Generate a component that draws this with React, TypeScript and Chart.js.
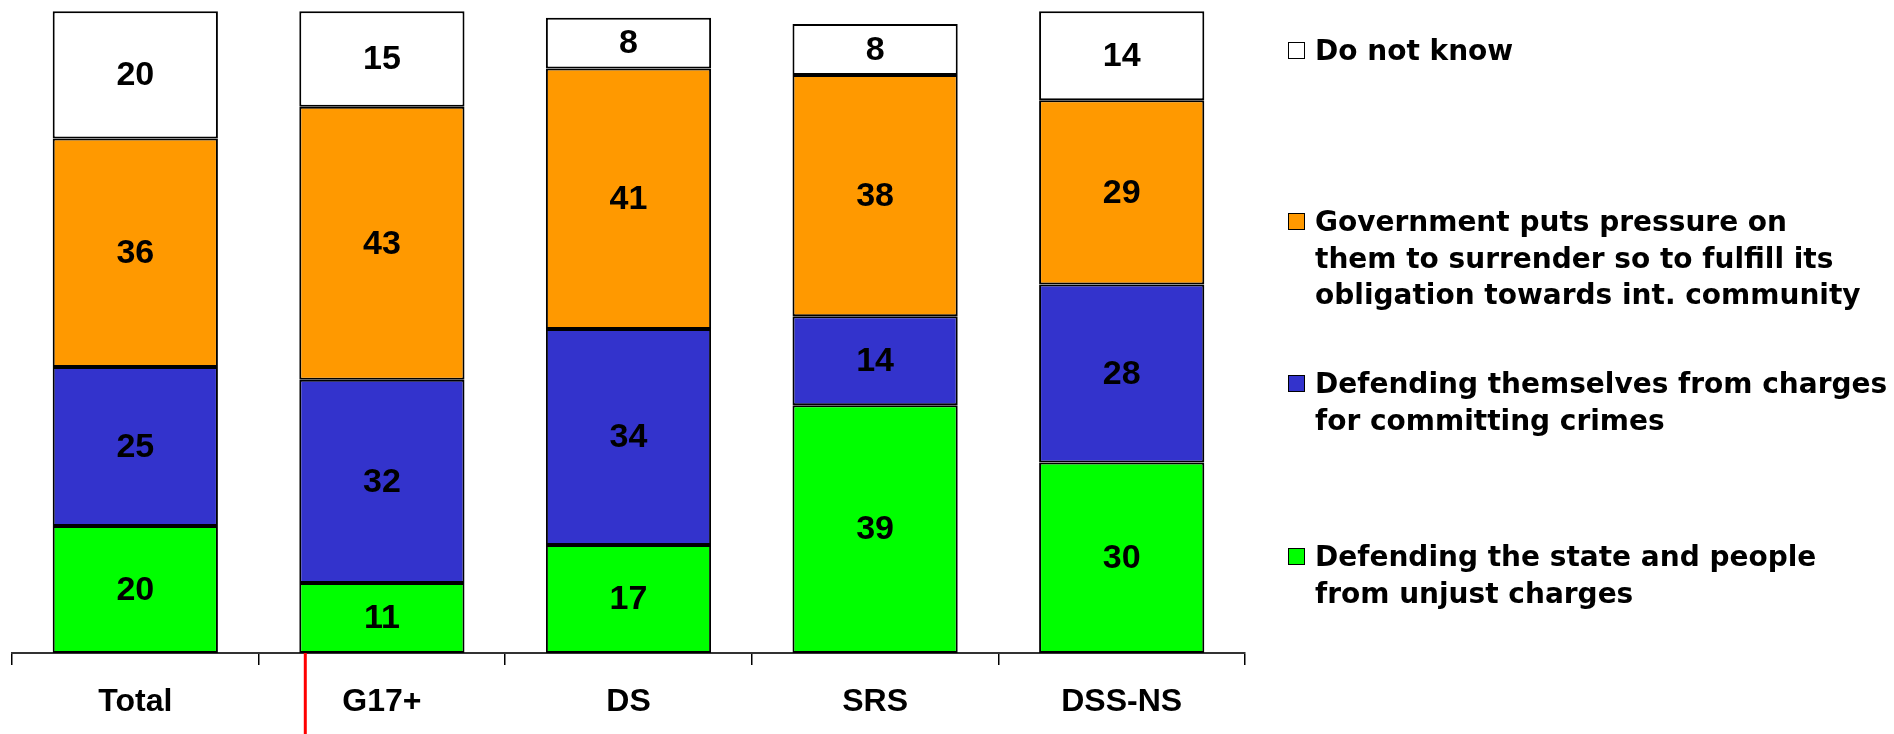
import React, { useEffect, useRef } from "react";
import { Chart, registerables } from "chart.js";

Chart.register(...registerables);

const categories = ["Total", "G17+", "DS", "SRS", "DSS-NS"];
const defendingState = [20, 11, 17, 39, 30];
const defendingThemselves = [25, 32, 34, 14, 28];
const governmentPressure = [36, 43, 41, 38, 29];
const doNotKnow = [20, 15, 8, 8, 14];

const labelState = ["Defending the state and people", "from unjust charges"];
const labelThemselves = ["Defending themselves from charges", "for committing crimes"];
const labelGovernment = [
  "Government puts pressure on",
  "them to surrender so to fulfill its",
  "obligation towards int. community",
];
const labelDoNotKnow = ["Do not know"];

const colorState = "#00FF00";
const colorThemselves = "#3333CC";
const colorGovernment = "#FF9900";
const colorDoNotKnow = "#FFFFFF";

const legendItems = [
  { lines: labelDoNotKnow, color: colorDoNotKnow, top: 33 },
  { lines: labelGovernment, color: colorGovernment, top: 204 },
  { lines: labelThemselves, color: colorThemselves, top: 366 },
  { lines: labelState, color: colorState, top: 539 },
];

const valueLabels = {
  id: "valueLabels",
  afterDatasetsDraw(chart: any) {
    const ctx = chart.ctx;
    ctx.save();
    ctx.fillStyle = "#000";
    ctx.font = "bold 34px 'Liberation Sans', Arial, sans-serif";
    ctx.textAlign = "center";
    ctx.textBaseline = "middle";
    chart.data.datasets.forEach((ds: any, i: number) => {
      const meta = chart.getDatasetMeta(i);
      meta.data.forEach((el: any, j: number) => {
        const p = el.getProps(["x", "y", "base"], true);
        ctx.fillText(String(ds.data[j]), p.x, (p.y + p.base) / 2 + 1);
      });
    });
    ctx.restore();
  },
};

const redMark = {
  id: "redMark",
  afterDraw(chart: any) {
    const meta = chart.getDatasetMeta(0);
    const el: any = meta.data[1];
    if (!el) return;
    const p = el.getProps(["x", "width"], true);
    const x = p.x - p.width / 2 + 6;
    const ctx = chart.ctx;
    ctx.save();
    ctx.strokeStyle = "#FF0000";
    ctx.lineWidth = 3;
    ctx.beginPath();
    ctx.moveTo(x, chart.chartArea.bottom);
    ctx.lineTo(x, chart.height);
    ctx.stroke();
    ctx.restore();
  },
};

export default function App() {
  const ref = useRef<HTMLCanvasElement>(null);

  useEffect(() => {
    if (!ref.current) return;
    const mk = (label: string[], data: number[], color: string) => ({
      label: label.join(" "),
      data,
      backgroundColor: color,
      borderColor: "#000",
      borderWidth: 2,
      borderSkipped: false,
      categoryPercentage: 1,
      barPercentage: 0.67,
    });
    const chart = new Chart(ref.current, {
      type: "bar",
      data: {
        labels: categories,
        datasets: [
          mk(labelState, defendingState, colorState),
          mk(labelThemselves, defendingThemselves, colorThemselves),
          mk(labelGovernment, governmentPressure, colorGovernment),
          mk(labelDoNotKnow, doNotKnow, colorDoNotKnow),
        ] as any,
      },
      options: {
        animation: false,
        responsive: true,
        maintainAspectRatio: false,
        layout: { padding: { left: 12, right: 649, top: 5, bottom: 0 } },
        plugins: { legend: { display: false }, tooltip: { enabled: false } },
        scales: {
          x: {
            stacked: true,
            afterFit(scale: any) {
              scale.height = 81;
            },
            border: { display: true, color: "#333", width: 2 },
            grid: {
              display: true,
              drawOnChartArea: false,
              drawTicks: true,
              tickLength: 12,
              color: "#000",
              lineWidth: 1.5,
              offset: true,
            },
            ticks: {
              color: "#000",
              padding: 18,
              font: { family: "'Liberation Sans', Arial, sans-serif", size: 32, weight: "bold" },
            },
          },
          y: { stacked: true, display: false, min: 0, max: 102 },
        },
      } as any,
      plugins: [valueLabels, redMark],
    });
    return () => chart.destroy();
  }, []);

  return (
    <div style={{ position: "absolute", left: 0, top: 0, width: 1894, height: 734, background: "#fff" }}>
      <canvas ref={ref} />
      {legendItems.map((it, i) => (
        <div
          key={i}
          style={{
            position: "absolute",
            left: 1288,
            top: it.top,
            fontFamily: "'DejaVu Sans', Verdana, sans-serif",
            fontWeight: "bold",
            fontSize: 28,
            lineHeight: "36.5px",
            color: "#000",
            whiteSpace: "nowrap",
          }}
        >
          <span
            style={{
              position: "absolute",
              left: 0,
              top: 9,
              width: 15,
              height: 15,
              border: "1.5px solid #000",
              background: it.color,
            }}
          />
          <div style={{ marginLeft: 27 }}>
            {it.lines.map((l, k) => (
              <div key={k}>{l}</div>
            ))}
          </div>
        </div>
      ))}
    </div>
  );
}
